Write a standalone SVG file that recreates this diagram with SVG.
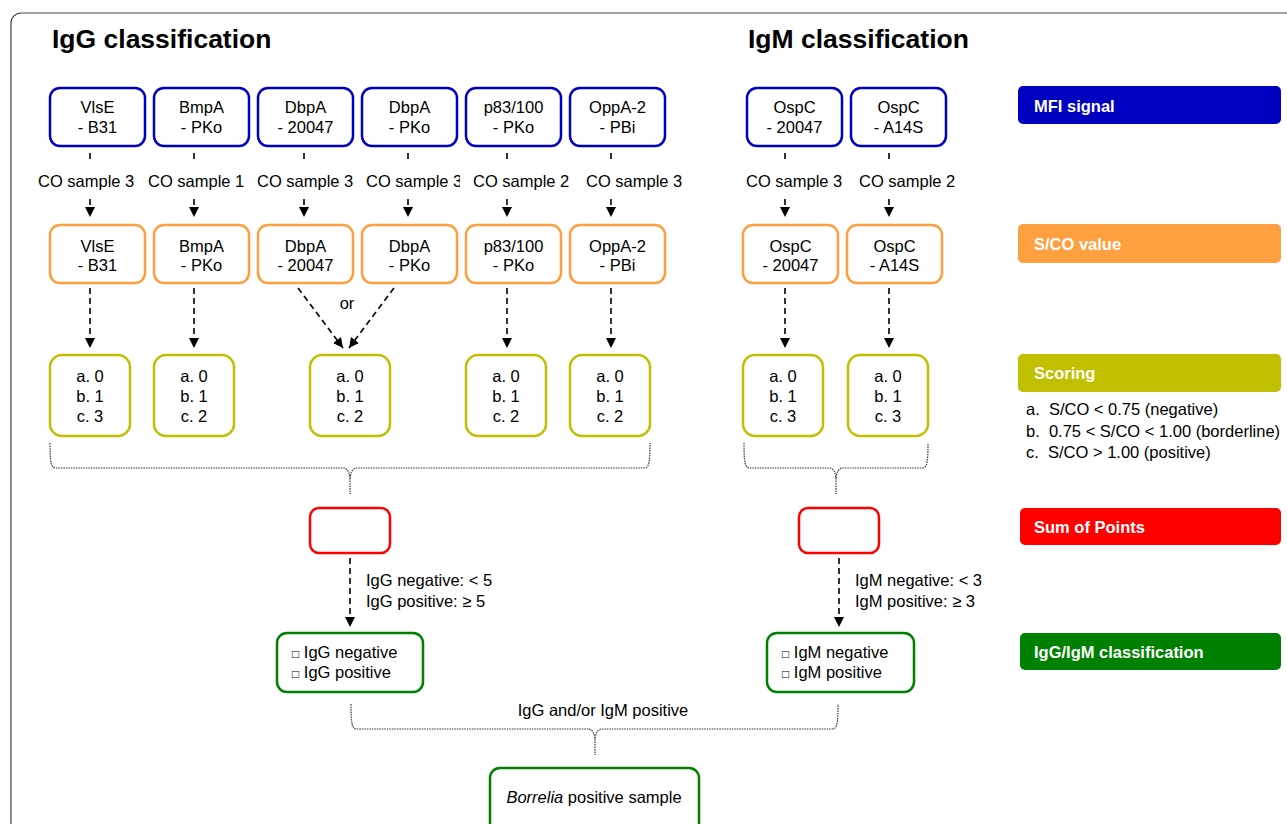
<svg xmlns="http://www.w3.org/2000/svg" width="1287" height="824" viewBox="0 0 1287 824">
<style>
text{font-family:"Liberation Sans",Arial,sans-serif;font-size:16.5px;fill:#000}
.t{font-size:26.5px;font-weight:bold}
.c{text-anchor:middle}
.bl{fill:#fff;stroke:#0000C0;stroke-width:2.5}
.or{fill:#fff;stroke:#FFA040;stroke-width:2.5}
.ye{fill:#fff;stroke:#C0C000;stroke-width:2.5}
.rd{fill:#fff;stroke:#FF0000;stroke-width:2.5}
.gr{fill:#fff;stroke:#008000;stroke-width:2.5}
.lg{font-weight:bold;fill:#fff}
.cn{fill:none;stroke:#000;stroke-width:1.6;stroke-dasharray:6,4}
.br{fill:none;stroke:#333;stroke-width:1.2;stroke-dasharray:1.5,1}
</style>
<defs>
<marker id="ah" viewBox="0 0 10 10" refX="10" refY="5" markerWidth="10" markerHeight="10" markerUnits="userSpaceOnUse" orient="auto"><path d="M0,0 L10,5 L0,10 z" fill="#000"/></marker>
</defs>
<rect x="11" y="13" width="1300" height="840" rx="10" fill="#fff" stroke="#444" stroke-width="1.2"/>
<text class="t" x="52" y="48">IgG classification</text>
<text class="t" x="748" y="48">IgM classification</text>

<g id="connectors">
<path class="cn" d="M90,153V163 M194,153V163 M304,153V163 M408,153V163 M507,153V163 M611,153V163 M785,153V163 M889,153V163"/>
<path class="cn" d="M90,199V217" marker-end="url(#ah)"/>
<path class="cn" d="M194,199V217" marker-end="url(#ah)"/>
<path class="cn" d="M304,199V217" marker-end="url(#ah)"/>
<path class="cn" d="M408,199V217" marker-end="url(#ah)"/>
<path class="cn" d="M507,199V217" marker-end="url(#ah)"/>
<path class="cn" d="M611,199V217" marker-end="url(#ah)"/>
<path class="cn" d="M785,199V217" marker-end="url(#ah)"/>
<path class="cn" d="M889,199V217" marker-end="url(#ah)"/>
<path class="cn" d="M90,288V348" marker-end="url(#ah)"/>
<path class="cn" d="M194,288V348" marker-end="url(#ah)"/>
<path class="cn" d="M298,288L343,348" marker-end="url(#ah)"/>
<path class="cn" d="M394,288L349,348" marker-end="url(#ah)"/>
<path class="cn" d="M507,288V348" marker-end="url(#ah)"/>
<path class="cn" d="M611,288V348" marker-end="url(#ah)"/>
<path class="cn" d="M785,288V348" marker-end="url(#ah)"/>
<path class="cn" d="M889,288V348" marker-end="url(#ah)"/>
<path class="cn" d="M350,558V627" marker-end="url(#ah)"/>
<path class="cn" d="M839,558V627" marker-end="url(#ah)"/>
<path class="br" d="M50,443 C50,463 51,468 56,468 L344,468 Q349,469 350,478 Q351,469 356,468 L644,468 C649,468 650,463 650,443 M350,478 V494"/>
<path class="br" d="M744,443 C744,463 745,468 750,468 L830,468 Q835,469 836,478 Q837,469 842,468 L922,468 C927,468 928,463 928,443 M836,478 V494"/>
<path class="br" d="M351,704 C351,724 352,729 357,729 L589,729 Q594,730 595,739 Q596,730 601,729 L832,729 C837,729 838,724 838,704 M595,739 V755"/>
<text x="38" y="187">CO sample 3</text>
<text x="148" y="187">CO sample 1</text>
<text x="257" y="187">CO sample 3</text>
<text x="366" y="187">CO sample 3</text>
<rect x="460" y="170" width="118" height="22" fill="#fff"/>
<text x="473" y="187">CO sample 2</text>
<text x="586" y="187">CO sample 3</text>
<text x="746" y="187">CO sample 3</text>
<text x="859" y="187">CO sample 2</text>
<text class="c" x="347" y="309">or</text>
<text x="366" y="586">IgG negative: &lt; 5</text>
<text x="366" y="607">IgG positive: ≥ 5</text>
<text x="855" y="586">IgM negative: &lt; 3</text>
<text x="855" y="607">IgM positive: ≥ 3</text>
<text class="c" x="603" y="716">IgG and/or IgM positive</text>
</g>

<g id="mfi-vlse"><rect class="bl" x="50" y="88" width="95" height="58" rx="10"/><text class="c" x="97.5" y="113">VlsE</text><text class="c" x="97.5" y="133">- B31</text></g>
<g id="mfi-bmpa"><rect class="bl" x="154" y="88" width="95" height="58" rx="10"/><text class="c" x="201.5" y="113">BmpA</text><text class="c" x="201.5" y="133">- PKo</text></g>
<g id="mfi-dbpa20047"><rect class="bl" x="258" y="88" width="95" height="58" rx="10"/><text class="c" x="305.5" y="113">DbpA</text><text class="c" x="305.5" y="133">- 20047</text></g>
<g id="mfi-dbpapko"><rect class="bl" x="362" y="88" width="95" height="58" rx="10"/><text class="c" x="409.5" y="113">DbpA</text><text class="c" x="409.5" y="133">- PKo</text></g>
<g id="mfi-p83"><rect class="bl" x="466" y="88" width="95" height="58" rx="10"/><text class="c" x="513.5" y="113">p83/100</text><text class="c" x="513.5" y="133">- PKo</text></g>
<g id="mfi-oppa"><rect class="bl" x="570" y="88" width="95" height="58" rx="10"/><text class="c" x="617.5" y="113">OppA-2</text><text class="c" x="617.5" y="133">- PBi</text></g>
<g id="mfi-ospc20047"><rect class="bl" x="747" y="88" width="95" height="58" rx="10"/><text class="c" x="794.5" y="113">OspC</text><text class="c" x="794.5" y="133">- 20047</text></g>
<g id="mfi-ospca14s"><rect class="bl" x="851" y="88" width="95" height="58" rx="10"/><text class="c" x="898.5" y="113">OspC</text><text class="c" x="898.5" y="133">- A14S</text></g>

<g id="sco-vlse"><rect class="or" x="50" y="225" width="95" height="58" rx="10"/><text class="c" x="97.5" y="252">VlsE</text><text class="c" x="97.5" y="271">- B31</text></g>
<g id="sco-bmpa"><rect class="or" x="154" y="225" width="95" height="58" rx="10"/><text class="c" x="201.5" y="252">BmpA</text><text class="c" x="201.5" y="271">- PKo</text></g>
<g id="sco-dbpa20047"><rect class="or" x="258" y="225" width="95" height="58" rx="10"/><text class="c" x="305.5" y="252">DbpA</text><text class="c" x="305.5" y="271">- 20047</text></g>
<g id="sco-dbpapko"><rect class="or" x="362" y="225" width="95" height="58" rx="10"/><text class="c" x="409.5" y="252">DbpA</text><text class="c" x="409.5" y="271">- PKo</text></g>
<g id="sco-p83"><rect class="or" x="466" y="225" width="95" height="58" rx="10"/><text class="c" x="513.5" y="252">p83/100</text><text class="c" x="513.5" y="271">- PKo</text></g>
<g id="sco-oppa"><rect class="or" x="570" y="225" width="95" height="58" rx="10"/><text class="c" x="617.5" y="252">OppA-2</text><text class="c" x="617.5" y="271">- PBi</text></g>
<g id="sco-ospc20047"><rect class="or" x="743" y="225" width="95" height="58" rx="10"/><text class="c" x="790.5" y="252">OspC</text><text class="c" x="790.5" y="271">- 20047</text></g>
<g id="sco-ospca14s"><rect class="or" x="847" y="225" width="95" height="58" rx="10"/><text class="c" x="894.5" y="252">OspC</text><text class="c" x="894.5" y="271">- A14S</text></g>

<g id="score-vlse"><rect class="ye" x="50" y="355" width="80" height="81" rx="12"/><text class="c" x="90" y="382">a. 0</text><text class="c" x="90" y="402">b. 1</text><text class="c" x="90" y="422">c. 3</text></g>
<g id="score-bmpa"><rect class="ye" x="154" y="355" width="80" height="81" rx="12"/><text class="c" x="194" y="382">a. 0</text><text class="c" x="194" y="402">b. 1</text><text class="c" x="194" y="422">c. 2</text></g>
<g id="score-dbpa"><rect class="ye" x="310" y="355" width="80" height="81" rx="12"/><text class="c" x="350" y="382">a. 0</text><text class="c" x="350" y="402">b. 1</text><text class="c" x="350" y="422">c. 2</text></g>
<g id="score-p83"><rect class="ye" x="466" y="355" width="80" height="81" rx="12"/><text class="c" x="506" y="382">a. 0</text><text class="c" x="506" y="402">b. 1</text><text class="c" x="506" y="422">c. 2</text></g>
<g id="score-oppa"><rect class="ye" x="570" y="355" width="80" height="81" rx="12"/><text class="c" x="610" y="382">a. 0</text><text class="c" x="610" y="402">b. 1</text><text class="c" x="610" y="422">c. 2</text></g>
<g id="score-ospc20047"><rect class="ye" x="743" y="355" width="80" height="81" rx="12"/><text class="c" x="783" y="382">a. 0</text><text class="c" x="783" y="402">b. 1</text><text class="c" x="783" y="422">c. 3</text></g>
<g id="score-ospca14s"><rect class="ye" x="848" y="355" width="80" height="81" rx="12"/><text class="c" x="888" y="382">a. 0</text><text class="c" x="888" y="402">b. 1</text><text class="c" x="888" y="422">c. 3</text></g>

<g id="sum-igg"><rect class="rd" x="310" y="508" width="80" height="45" rx="9"/></g>
<g id="sum-igm"><rect class="rd" x="799" y="508" width="80" height="45" rx="9"/></g>

<g id="class-igg"><rect class="gr" x="277" y="633" width="146" height="59" rx="10"/><text x="292" y="658"><tspan font-size="12">□</tspan> IgG negative</text><text x="292" y="678"><tspan font-size="12">□</tspan> IgG positive</text></g>
<g id="class-igm"><rect class="gr" x="767" y="633" width="147" height="59" rx="10"/><text x="782" y="658"><tspan font-size="12">□</tspan> IgM negative</text><text x="782" y="678"><tspan font-size="12">□</tspan> IgM positive</text></g>

<g id="borrelia"><rect class="gr" x="490" y="768" width="209" height="70" rx="10"/><text class="c" x="594" y="803"><tspan font-style="italic">Borrelia</tspan> positive sample</text></g>

<g id="legend-mfi"><rect x="1018" y="86" width="263" height="38" rx="5" fill="#0000C0"/><text class="lg" x="1034" y="112">MFI signal</text></g>
<g id="legend-sco"><rect x="1018" y="224" width="263" height="39" rx="5" fill="#FFA040"/><text class="lg" x="1034" y="250">S/CO value</text></g>
<g id="legend-scoring"><rect x="1018" y="354" width="263" height="38" rx="5" fill="#C0C000"/><text class="lg" x="1034" y="379">Scoring</text>
<text x="1026" y="415" style="white-space:pre">a.  S/CO &lt; 0.75 (negative)</text>
<text x="1026" y="437" style="white-space:pre">b.  0.75 &lt; S/CO &lt; 1.00 (borderline)</text>
<text x="1026" y="458" style="white-space:pre">c.  S/CO &gt; 1.00 (positive)</text></g>
<g id="legend-sum"><rect x="1020" y="508" width="261" height="37" rx="5" fill="#FF0000"/><text class="lg" x="1034" y="533">Sum of Points</text></g>
<g id="legend-class"><rect x="1020" y="633" width="261" height="37" rx="5" fill="#008000"/><text class="lg" x="1034" y="658">IgG/IgM classification</text></g>
</svg>
